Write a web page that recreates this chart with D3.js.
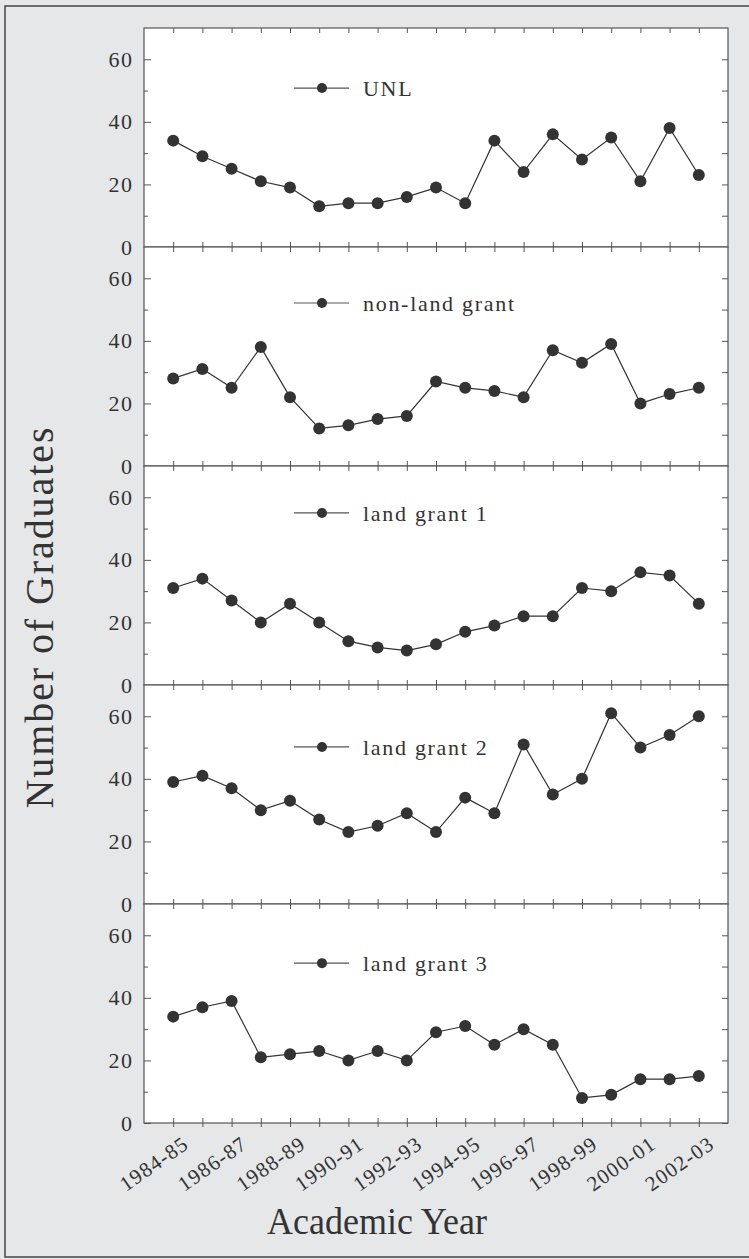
<!DOCTYPE html>
<html>
<head>
<meta charset="utf-8">
<script src="https://cdn.jsdelivr.net/npm/d3@7"></script>
<style>
  html, body { margin: 0; padding: 0; background: #e6e7e9; }
  svg { display: block; }
  text { font-family: "Liberation Serif", "Times New Roman", serif; fill: #333; }
</style>
</head>
<body>
<script>
// academic years (x categories)
var years = ["1984-85", "1985-86", "1986-87", "1987-88", "1988-89", "1989-90", "1990-91",
             "1991-92", "1992-93", "1993-94", "1994-95", "1995-96", "1996-97", "1997-98",
             "1998-99", "1999-00", "2000-01", "2001-02", "2002-03"];
var yearLabels = ["1984-85", "1986-87", "1988-89", "1990-91", "1992-93",
                  "1994-95", "1996-97", "1998-99", "2000-01", "2002-03"];

// number of graduates, one array per institution
var unl          = [34, 29, 25, 21, 19, 13, 14, 14, 16, 19, 14, 34, 24, 36, 28, 35, 21, 38, 23];
var nonLandGrant = [28, 31, 25, 38, 22, 12, 13, 15, 16, 27, 25, 24, 22, 37, 33, 39, 20, 23, 25];
var landGrant1   = [31, 34, 27, 20, 26, 20, 14, 12, 11, 13, 17, 19, 22, 22, 31, 30, 36, 35, 26];
var landGrant2   = [39, 41, 37, 30, 33, 27, 23, 25, 29, 23, 34, 29, 51, 35, 40, 61, 50, 54, 60];
var landGrant3   = [34, 37, 39, 21, 22, 23, 20, 23, 20, 29, 31, 25, 30, 25,  8,  9, 14, 14, 15];

var seriesNames = ["UNL", "non-land grant", "land grant 1", "land grant 2", "land grant 3"];
var seriesData  = [unl, nonLandGrant, landGrant1, landGrant2, landGrant3];

var yMajor = [0, 20, 40, 60];
var yMinor = [10, 30, 50];

// layout
var W = 749, H = 1259;
var left = 144, right = 728, top0 = 28, panelH = 219;
var legendAt = [50.8, 52.1, 55, 50.2, 51.1];   // legend height in data units
var ink = "#333", frameInk = "#555";
var serif = "'Liberation Serif', 'Times New Roman', serif";

var svg = d3.select("body").append("svg")
  .attr("width", W).attr("height", H);

svg.append("rect").attr("width", W).attr("height", H).attr("fill", "#e6e7e9");
svg.append("rect")
  .attr("x", 5).attr("y", 6).attr("width", 800).attr("height", 1251)
  .attr("fill", "none").attr("stroke", "#444").attr("stroke-width", 1.5);

var x = d3.scaleLinear().domain([-1, years.length]).range([left, right]);

seriesData.forEach(function (vals, p) {
  var top = top0 + p * panelH, bottom = top + panelH;
  var y = d3.scaleLinear().domain([0, 70]).range([bottom, top]);
  var g = svg.append("g");

  g.append("rect")
    .attr("x", left).attr("y", top).attr("width", right - left).attr("height", panelH)
    .attr("fill", "#fff");

  // y axes (left labelled, right plain), ticks pointing inward
  var yl = d3.axisLeft(y).tickValues(yMajor).tickSize(-7).tickPadding(12)
             .tickFormat(d3.format("d"));
  var ylm = d3.axisLeft(y).tickValues(yMinor).tickSize(-4).tickFormat("");
  var yr = d3.axisRight(y).tickValues(yMajor.concat(yMinor)).tickSize(-6).tickFormat("");

  g.append("g").attr("transform", "translate(" + left + ",0)").call(yl);
  g.append("g").attr("transform", "translate(" + left + ",0)").call(ylm);
  g.append("g").attr("transform", "translate(" + right + ",0)").call(yr);

  // x ticks at every year, inward at top and bottom
  var idx = d3.range(years.length);
  var xt = d3.axisTop(x).tickValues(idx).tickSize(-5).tickFormat("");
  var xb = d3.axisBottom(x).tickValues(idx).tickSize(-5).tickFormat("");
  g.append("g").attr("transform", "translate(0," + top + ")").call(xt);
  g.append("g").attr("transform", "translate(0," + bottom + ")").call(xb);

  g.selectAll(".domain").remove();
  g.selectAll(".tick line").attr("stroke", frameInk).attr("stroke-width", 1);
  g.selectAll(".tick text")
    .attr("font-family", serif).attr("font-size", 22)
    .style("font-family", serif).style("font-size", "22px").style("letter-spacing", "1.5px")
    .attr("fill", ink).attr("dx", "1.5px");

  if (p === seriesData.length - 1) {
    var xo = d3.axisBottom(x).tickValues(idx).tickSize(4).tickFormat("");
    g.append("g").attr("transform", "translate(0," + bottom + ")").call(xo)
      .call(function (a) {
        a.select(".domain").remove();
        a.selectAll("line").attr("stroke", frameInk);
      });

    g.selectAll(".ylab").data(yearLabels).enter().append("text")
      .attr("transform", function (d) {
        return "translate(" + (x(years.indexOf(d)) + 17) + "," + (bottom + 24) + ") rotate(-35)";
      })
      .attr("text-anchor", "end")
      .attr("font-family", serif)
      .style("font-size", "21px").style("letter-spacing", "1.2px")
      .text(function (d) { return d; });
  }

  g.append("rect")
    .attr("x", left).attr("y", top).attr("width", right - left).attr("height", panelH)
    .attr("fill", "none").attr("stroke", frameInk).attr("stroke-width", 1.2);

  // series
  var line = d3.line().x(function (d, i) { return x(i); }).y(function (d) { return y(d); });
  g.append("path").datum(vals)
    .attr("d", line).attr("fill", "none").attr("stroke", ink).attr("stroke-width", 1.2);
  g.selectAll("circle.pt").data(vals).enter().append("circle")
    .attr("class", "pt")
    .attr("cx", function (d, i) { return x(i); })
    .attr("cy", function (d) { return y(d); })
    .attr("r", 6).attr("fill", ink);

  // legend
  var ly = y(legendAt[p]);
  g.append("line").attr("x1", 294).attr("x2", 349).attr("y1", ly).attr("y2", ly)
    .attr("stroke", "#555").attr("stroke-width", 1.2);
  g.append("circle").attr("cx", 322).attr("cy", ly).attr("r", 5).attr("fill", ink);
  g.append("text").attr("x", 363).attr("y", ly).attr("dy", "0.36em")
    .attr("font-family", serif)
    .style("font-size", "22px").style("letter-spacing", "1.7px")
    .text(seriesNames[p]);
});

// axis titles
svg.append("text")
  .attr("transform", "translate(53,618) rotate(-90)")
  .attr("text-anchor", "middle")
  .attr("textLength", 381).attr("lengthAdjust", "spacing")
  .style("font-size", "40px")
  .text("Number of Graduates");

svg.append("text")
  .attr("x", 377).attr("y", 1234)
  .attr("text-anchor", "middle")
  .attr("textLength", 220).attr("lengthAdjust", "spacingAndGlyphs")
  .style("font-size", "38px")
  .text("Academic Year");
</script>
</body>
</html>
